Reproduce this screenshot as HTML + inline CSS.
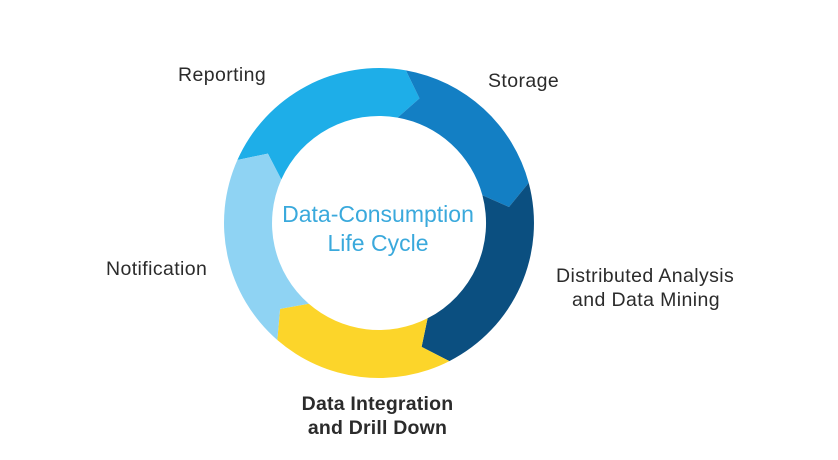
<!DOCTYPE html>
<html><head><meta charset="utf-8"><style>
body{margin:0;background:#fff;width:838px;height:460px;overflow:hidden;font-family:"Liberation Sans",sans-serif;}
.t{position:absolute;font-size:19.5px;color:#2b2b2b;white-space:nowrap;letter-spacing:0.4px;}
</style></head><body>
<svg id="s" width="838" height="460" style="position:absolute;left:0;top:0"></svg>
<div class="t" style="left:178px;top:64px">Reporting</div>
<div class="t" style="left:488px;top:70px">Storage</div>
<div class="t" style="left:556px;top:265px">Distributed Analysis</div>
<div class="t" style="left:572px;top:289px">and Data Mining</div>
<div class="t" style="left:106px;top:258px">Notification</div>
<div class="t" style="left:290px;top:392px;font-weight:bold;width:175px;text-align:center;line-height:24px;font-size:19.5px;letter-spacing:0.2px">Data Integration<br>and Drill Down</div>
<div class="t" style="left:258px;top:200px;width:240px;text-align:center;color:#3aa9dc;font-size:23px;line-height:29px;letter-spacing:0">Data-Consumption<br>Life Cycle</div>
<script>
var cx=379,cy=223,R=155,r=107,m=(R+r)/2,t=8;
function p(a,rad){a=a*Math.PI/180;return (cx+rad*Math.sin(a)).toFixed(1)+","+(cy-rad*Math.cos(a)).toFixed(1);}
var segs=[[294,370,"#1eaee8"],[10,75,"#137fc4"],[75,153,"#0b4f80"],[153,221,"#fcd52a"],[221,294,"#8fd3f3"]];
var h="";
segs.forEach(function(g){var s=g[0],e=g[1];
h+='<path fill="'+g[2]+'" d="M'+p(s,R)+' A'+R+','+R+' 0 0 1 '+p(e,R)+' L'+p(e+t,m)+' L'+p(e,r)+' A'+r+','+r+' 0 0 0 '+p(s,r)+' L'+p(s+t,m)+' Z"/>';});
document.getElementById("s").innerHTML=h;
</script>
</body></html>
